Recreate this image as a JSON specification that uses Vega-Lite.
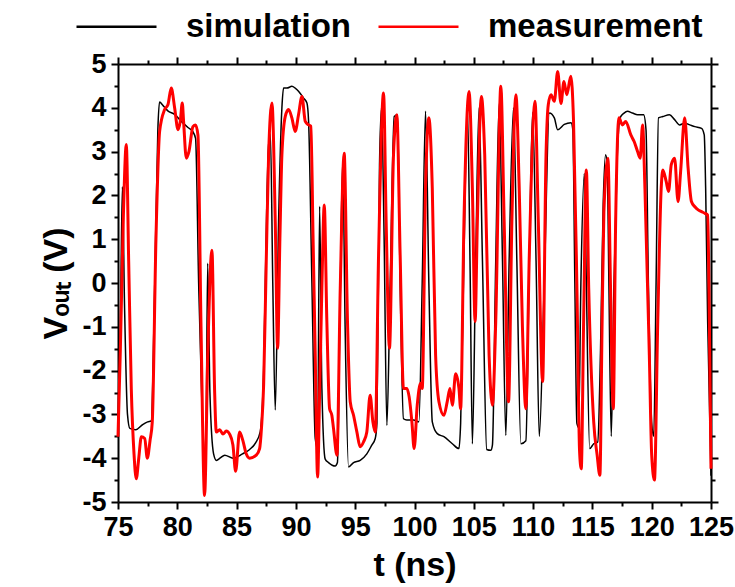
{
  "$schema": "https://vega.github.io/schema/vega-lite/v6.json",
  "width": 593,
  "height": 438,
  "autosize": "none",
  "padding": {"left": 118, "top": 64, "right": 24, "bottom": 85},
  "background": "white",
  "config": {
    "view": {"stroke": null},
    "font": "Liberation Sans",
    "axis": {
      "domainColor": "black", "domainWidth": 2, "tickColor": "black", "tickWidth": 2,
      "labelFont": "Liberation Sans", "labelFontWeight": "bold", "labelFontSize": 27, "labelColor": "black",
      "titleFont": "Liberation Sans", "titleFontWeight": "bold", "titleFontSize": 34, "titleColor": "black",
      "grid": false, "labelOverlap": false, "labelFlush": false
    }
  },
  "datasets": {
    "sim": [
      {"s":"simulation","t":75.0,"v":-3.2},{"s":"simulation","t":75.2,"v":-1.0},{"s":"simulation","t":75.37,"v":2.2},{"s":"simulation","t":75.55,"v":-0.5},{"s":"simulation","t":75.8,"v":-3.0},{"s":"simulation","t":76.0,"v":-3.32},{"s":"simulation","t":76.5,"v":-3.35},{"s":"simulation","t":77.0,"v":-3.25},{"s":"simulation","t":77.5,"v":-3.17},{"s":"simulation","t":77.8,"v":-3.15},{"s":"simulation","t":78.1,"v":0.0},{"s":"simulation","t":78.36,"v":3.5},{"s":"simulation","t":78.5,"v":4.13},{"s":"simulation","t":78.8,"v":4.05},{"s":"simulation","t":79.2,"v":3.93},{"s":"simulation","t":79.77,"v":3.85},{"s":"simulation","t":80.34,"v":3.69},{"s":"simulation","t":80.9,"v":3.55},{"s":"simulation","t":81.3,"v":3.46},{"s":"simulation","t":81.54,"v":3.3},{"s":"simulation","t":81.8,"v":0.0},{"s":"simulation","t":82.1,"v":-3.0},{"s":"simulation","t":82.4,"v":-4.1},{"s":"simulation","t":82.56,"v":0.45},{"s":"simulation","t":82.75,"v":-2.5},{"s":"simulation","t":83.06,"v":-3.9},{"s":"simulation","t":83.3,"v":-4.05},{"s":"simulation","t":83.6,"v":-4.0},{"s":"simulation","t":84.0,"v":-3.93},{"s":"simulation","t":84.7,"v":-4.0},{"s":"simulation","t":85.5,"v":-3.9},{"s":"simulation","t":86.1,"v":-3.8},{"s":"simulation","t":86.6,"v":-3.65},{"s":"simulation","t":86.99,"v":-3.4},{"s":"simulation","t":87.28,"v":-2.0},{"s":"simulation","t":87.56,"v":2.0},{"s":"simulation","t":87.7,"v":3.16},{"s":"simulation","t":87.85,"v":3.4},{"s":"simulation","t":88.05,"v":0.0},{"s":"simulation","t":88.26,"v":-2.9},{"s":"simulation","t":88.54,"v":1.4},{"s":"simulation","t":88.82,"v":4.0},{"s":"simulation","t":88.96,"v":4.45},{"s":"simulation","t":89.24,"v":4.45},{"s":"simulation","t":89.66,"v":4.49},{"s":"simulation","t":89.94,"v":4.45},{"s":"simulation","t":90.22,"v":4.38},{"s":"simulation","t":90.65,"v":4.22},{"s":"simulation","t":90.93,"v":4.11},{"s":"simulation","t":91.07,"v":3.69},{"s":"simulation","t":91.35,"v":0.0},{"s":"simulation","t":91.63,"v":-3.55},{"s":"simulation","t":91.83,"v":-3.78},{"s":"simulation","t":92.0,"v":1.75},{"s":"simulation","t":92.19,"v":-2.4},{"s":"simulation","t":92.47,"v":-4.02},{"s":"simulation","t":92.75,"v":-4.1},{"s":"simulation","t":93.31,"v":-4.18},{"s":"simulation","t":93.5,"v":-4.1},{"s":"simulation","t":93.7,"v":-1.0},{"s":"simulation","t":93.95,"v":2.8},{"s":"simulation","t":94.15,"v":-1.0},{"s":"simulation","t":94.44,"v":-4.2},{"s":"simulation","t":94.86,"v":-4.1},{"s":"simulation","t":95.42,"v":-4.05},{"s":"simulation","t":95.98,"v":-3.9},{"s":"simulation","t":96.4,"v":-3.7},{"s":"simulation","t":96.69,"v":-3.55},{"s":"simulation","t":96.83,"v":-3.2},{"s":"simulation","t":97.05,"v":2.7},{"s":"simulation","t":97.22,"v":4.0},{"s":"simulation","t":97.44,"v":1.0},{"s":"simulation","t":97.67,"v":-3.25},{"s":"simulation","t":97.95,"v":0.0},{"s":"simulation","t":98.29,"v":3.8},{"s":"simulation","t":98.57,"v":3.84},{"s":"simulation","t":98.79,"v":0.0},{"s":"simulation","t":99.07,"v":-3.1},{"s":"simulation","t":99.35,"v":-3.13},{"s":"simulation","t":99.92,"v":-3.13},{"s":"simulation","t":100.37,"v":-3.17},{"s":"simulation","t":100.65,"v":0.0},{"s":"simulation","t":100.93,"v":3.92},{"s":"simulation","t":101.21,"v":0.0},{"s":"simulation","t":101.5,"v":-3.17},{"s":"simulation","t":101.92,"v":-3.44},{"s":"simulation","t":102.48,"v":-3.51},{"s":"simulation","t":103.19,"v":-3.67},{"s":"simulation","t":103.75,"v":-3.78},{"s":"simulation","t":103.89,"v":-3.2},{"s":"simulation","t":104.17,"v":0.6},{"s":"simulation","t":104.46,"v":4.0},{"s":"simulation","t":104.68,"v":0.5},{"s":"simulation","t":104.88,"v":-3.67},{"s":"simulation","t":105.16,"v":0.5},{"s":"simulation","t":105.44,"v":4.0},{"s":"simulation","t":105.73,"v":0.5},{"s":"simulation","t":106.09,"v":-3.8},{"s":"simulation","t":106.43,"v":-3.82},{"s":"simulation","t":106.57,"v":-3.7},{"s":"simulation","t":106.85,"v":0.5},{"s":"simulation","t":107.14,"v":4.1},{"s":"simulation","t":107.42,"v":0.5},{"s":"simulation","t":107.7,"v":-3.48},{"s":"simulation","t":107.98,"v":0.5},{"s":"simulation","t":108.35,"v":4.0},{"s":"simulation","t":108.63,"v":0.5},{"s":"simulation","t":108.97,"v":-3.67},{"s":"simulation","t":109.39,"v":-3.6},{"s":"simulation","t":109.68,"v":0.5},{"s":"simulation","t":109.96,"v":3.9},{"s":"simulation","t":110.25,"v":0.5},{"s":"simulation","t":110.52,"v":-3.5},{"s":"simulation","t":110.94,"v":0.0},{"s":"simulation","t":111.37,"v":3.88},{"s":"simulation","t":111.79,"v":3.77},{"s":"simulation","t":112.07,"v":3.5},{"s":"simulation","t":112.63,"v":3.62},{"s":"simulation","t":113.2,"v":3.66},{"s":"simulation","t":113.35,"v":3.5},{"s":"simulation","t":113.52,"v":0.0},{"s":"simulation","t":113.69,"v":-3.2},{"s":"simulation","t":113.84,"v":-3.3},{"s":"simulation","t":114.03,"v":0.0},{"s":"simulation","t":114.32,"v":2.5},{"s":"simulation","t":114.49,"v":0.0},{"s":"simulation","t":114.77,"v":-3.78},{"s":"simulation","t":115.11,"v":-3.67},{"s":"simulation","t":115.45,"v":-3.63},{"s":"simulation","t":115.68,"v":-1.6},{"s":"simulation","t":115.91,"v":1.8},{"s":"simulation","t":116.11,"v":2.93},{"s":"simulation","t":116.25,"v":2.7},{"s":"simulation","t":116.39,"v":0.0},{"s":"simulation","t":116.59,"v":-3.5},{"s":"simulation","t":116.82,"v":0.0},{"s":"simulation","t":117.1,"v":2.93},{"s":"simulation","t":117.33,"v":3.77},{"s":"simulation","t":117.67,"v":3.88},{"s":"simulation","t":117.95,"v":3.92},{"s":"simulation","t":118.38,"v":3.88},{"s":"simulation","t":118.81,"v":3.84},{"s":"simulation","t":119.32,"v":3.84},{"s":"simulation","t":119.52,"v":3.5},{"s":"simulation","t":119.72,"v":0.0},{"s":"simulation","t":120.0,"v":-3.2},{"s":"simulation","t":120.17,"v":-3.5},{"s":"simulation","t":120.37,"v":0.0},{"s":"simulation","t":120.57,"v":3.77},{"s":"simulation","t":120.94,"v":3.8},{"s":"simulation","t":121.5,"v":3.84},{"s":"simulation","t":121.93,"v":3.73},{"s":"simulation","t":122.36,"v":3.61},{"s":"simulation","t":122.78,"v":3.65},{"s":"simulation","t":123.21,"v":3.61},{"s":"simulation","t":123.64,"v":3.57},{"s":"simulation","t":124.2,"v":3.53},{"s":"simulation","t":124.43,"v":3.38},{"s":"simulation","t":124.55,"v":2.15},{"s":"simulation","t":124.72,"v":-0.9},{"s":"simulation","t":125.0,"v":-4.4}
    ],
    "meas": [
      {"s":"measurement","t":75.0,"v":-3.51},{"s":"measurement","t":75.2,"v":-1.5},{"s":"measurement","t":75.45,"v":1.5},{"s":"measurement","t":75.7,"v":3.16},{"s":"measurement","t":75.9,"v":0.5},{"s":"measurement","t":76.12,"v":-2.41},{"s":"measurement","t":76.35,"v":-3.9},{"s":"measurement","t":76.54,"v":-4.47},{"s":"measurement","t":76.75,"v":-4.0},{"s":"measurement","t":76.97,"v":-3.51},{"s":"measurement","t":77.25,"v":-3.55},{"s":"measurement","t":77.47,"v":-4.0},{"s":"measurement","t":77.7,"v":-3.6},{"s":"measurement","t":77.89,"v":-3.17},{"s":"measurement","t":78.2,"v":1.0},{"s":"measurement","t":78.51,"v":3.46},{"s":"measurement","t":78.93,"v":3.96},{"s":"measurement","t":79.21,"v":4.07},{"s":"measurement","t":79.49,"v":4.45},{"s":"measurement","t":79.78,"v":3.99},{"s":"measurement","t":80.06,"v":3.5},{"s":"measurement","t":80.25,"v":3.69},{"s":"measurement","t":80.42,"v":4.11},{"s":"measurement","t":80.53,"v":3.69},{"s":"measurement","t":80.76,"v":2.85},{"s":"measurement","t":80.98,"v":3.0},{"s":"measurement","t":81.32,"v":3.57},{"s":"measurement","t":81.54,"v":3.61},{"s":"measurement","t":81.74,"v":3.38},{"s":"measurement","t":82.0,"v":-1.0},{"s":"measurement","t":82.3,"v":-4.85},{"s":"measurement","t":82.58,"v":-1.5},{"s":"measurement","t":82.92,"v":0.75},{"s":"measurement","t":83.15,"v":-2.5},{"s":"measurement","t":83.29,"v":-3.4},{"s":"measurement","t":83.57,"v":-3.35},{"s":"measurement","t":83.85,"v":-3.45},{"s":"measurement","t":84.13,"v":-3.38},{"s":"measurement","t":84.41,"v":-3.45},{"s":"measurement","t":84.69,"v":-3.7},{"s":"measurement","t":84.92,"v":-4.3},{"s":"measurement","t":85.25,"v":-3.4},{"s":"measurement","t":85.53,"v":-3.6},{"s":"measurement","t":85.81,"v":-3.9},{"s":"measurement","t":86.1,"v":-4.0},{"s":"measurement","t":86.66,"v":-3.93},{"s":"measurement","t":86.94,"v":-3.78},{"s":"measurement","t":87.1,"v":-3.3},{"s":"measurement","t":87.28,"v":-2.33},{"s":"measurement","t":87.5,"v":0.5},{"s":"measurement","t":87.7,"v":2.93},{"s":"measurement","t":87.98,"v":4.11},{"s":"measurement","t":88.26,"v":1.4},{"s":"measurement","t":88.46,"v":-1.49},{"s":"measurement","t":88.65,"v":1.0},{"s":"measurement","t":88.82,"v":2.93},{"s":"measurement","t":89.1,"v":3.8},{"s":"measurement","t":89.38,"v":3.96},{"s":"measurement","t":89.66,"v":3.77},{"s":"measurement","t":89.94,"v":3.46},{"s":"measurement","t":90.22,"v":3.84},{"s":"measurement","t":90.51,"v":4.26},{"s":"measurement","t":90.79,"v":3.69},{"s":"measurement","t":91.07,"v":3.61},{"s":"measurement","t":91.26,"v":3.58},{"s":"measurement","t":91.45,"v":1.0},{"s":"measurement","t":91.63,"v":-1.65},{"s":"measurement","t":91.83,"v":-4.43},{"s":"measurement","t":92.0,"v":-2.5},{"s":"measurement","t":92.19,"v":-0.12},{"s":"measurement","t":92.39,"v":1.78},{"s":"measurement","t":92.61,"v":-0.88},{"s":"measurement","t":92.84,"v":-2.87},{"s":"measurement","t":93.03,"v":-3.02},{"s":"measurement","t":93.17,"v":-3.32},{"s":"measurement","t":93.46,"v":-3.93},{"s":"measurement","t":93.74,"v":-0.12},{"s":"measurement","t":94.07,"v":2.96},{"s":"measurement","t":94.35,"v":-0.88},{"s":"measurement","t":94.58,"v":-2.71},{"s":"measurement","t":94.86,"v":-3.02},{"s":"measurement","t":95.14,"v":-3.4},{"s":"measurement","t":95.42,"v":-3.74},{"s":"measurement","t":95.7,"v":-3.63},{"s":"measurement","t":95.98,"v":-3.4},{"s":"measurement","t":96.26,"v":-2.56},{"s":"measurement","t":96.49,"v":-3.17},{"s":"measurement","t":96.69,"v":-3.4},{"s":"measurement","t":96.97,"v":0.64},{"s":"measurement","t":97.39,"v":4.34},{"s":"measurement","t":97.61,"v":1.4},{"s":"measurement","t":97.89,"v":-1.49},{"s":"measurement","t":98.23,"v":2.93},{"s":"measurement","t":98.51,"v":3.84},{"s":"measurement","t":98.79,"v":0.64},{"s":"measurement","t":99.07,"v":-2.41},{"s":"measurement","t":99.35,"v":-2.41},{"s":"measurement","t":99.55,"v":-2.6},{"s":"measurement","t":99.78,"v":-3.17},{"s":"measurement","t":99.97,"v":-3.78},{"s":"measurement","t":100.23,"v":-2.79},{"s":"measurement","t":100.51,"v":-2.29},{"s":"measurement","t":100.65,"v":-2.41},{"s":"measurement","t":100.93,"v":2.16},{"s":"measurement","t":101.21,"v":3.77},{"s":"measurement","t":101.5,"v":2.16},{"s":"measurement","t":101.78,"v":-1.65},{"s":"measurement","t":102.06,"v":-2.71},{"s":"measurement","t":102.48,"v":-3.02},{"s":"measurement","t":102.76,"v":-2.71},{"s":"measurement","t":102.99,"v":-2.41},{"s":"measurement","t":103.19,"v":-2.79},{"s":"measurement","t":103.47,"v":-2.07},{"s":"measurement","t":103.75,"v":-2.41},{"s":"measurement","t":103.89,"v":-2.87},{"s":"measurement","t":104.17,"v":1.4},{"s":"measurement","t":104.6,"v":4.37},{"s":"measurement","t":104.88,"v":2.16},{"s":"measurement","t":105.11,"v":-0.88},{"s":"measurement","t":105.3,"v":1.4},{"s":"measurement","t":105.64,"v":4.26},{"s":"measurement","t":105.92,"v":2.93},{"s":"measurement","t":106.29,"v":-1.65},{"s":"measurement","t":106.57,"v":-2.79},{"s":"measurement","t":106.85,"v":-0.88},{"s":"measurement","t":107.28,"v":4.49},{"s":"measurement","t":107.56,"v":1.4},{"s":"measurement","t":107.93,"v":-2.71},{"s":"measurement","t":108.21,"v":1.4},{"s":"measurement","t":108.55,"v":4.3},{"s":"measurement","t":108.83,"v":2.16},{"s":"measurement","t":109.1,"v":-1.0},{"s":"measurement","t":109.39,"v":-2.87},{"s":"measurement","t":109.68,"v":0.64},{"s":"measurement","t":110.16,"v":4.15},{"s":"measurement","t":110.44,"v":1.4},{"s":"measurement","t":110.8,"v":-2.25},{"s":"measurement","t":111.09,"v":2.93},{"s":"measurement","t":111.28,"v":4.07},{"s":"measurement","t":111.51,"v":4.3},{"s":"measurement","t":111.79,"v":4.15},{"s":"measurement","t":112.07,"v":4.83},{"s":"measurement","t":112.35,"v":4.1},{"s":"measurement","t":112.6,"v":4.6},{"s":"measurement","t":112.84,"v":4.3},{"s":"measurement","t":113.18,"v":4.72},{"s":"measurement","t":113.41,"v":3.69},{"s":"measurement","t":113.69,"v":-0.03},{"s":"measurement","t":113.92,"v":-3.85},{"s":"measurement","t":114.06,"v":-4.24},{"s":"measurement","t":114.26,"v":-0.88},{"s":"measurement","t":114.49,"v":2.58},{"s":"measurement","t":114.69,"v":-0.12},{"s":"measurement","t":115.11,"v":-3.17},{"s":"measurement","t":115.4,"v":-3.93},{"s":"measurement","t":115.63,"v":-4.39},{"s":"measurement","t":115.82,"v":-0.88},{"s":"measurement","t":115.97,"v":1.63},{"s":"measurement","t":116.31,"v":2.85},{"s":"measurement","t":116.53,"v":-0.12},{"s":"measurement","t":116.76,"v":-2.87},{"s":"measurement","t":116.96,"v":1.4},{"s":"measurement","t":117.24,"v":3.77},{"s":"measurement","t":117.53,"v":3.61},{"s":"measurement","t":117.81,"v":3.69},{"s":"measurement","t":118.24,"v":3.38},{"s":"measurement","t":118.52,"v":3.23},{"s":"measurement","t":118.81,"v":3.0},{"s":"measurement","t":119.03,"v":2.85},{"s":"measurement","t":119.23,"v":3.61},{"s":"measurement","t":119.43,"v":2.16},{"s":"measurement","t":119.8,"v":-1.65},{"s":"measurement","t":120.0,"v":-3.93},{"s":"measurement","t":120.23,"v":-4.5},{"s":"measurement","t":120.51,"v":-0.88},{"s":"measurement","t":120.8,"v":2.16},{"s":"measurement","t":120.94,"v":2.58},{"s":"measurement","t":121.22,"v":2.32},{"s":"measurement","t":121.42,"v":2.09},{"s":"measurement","t":121.65,"v":2.7},{"s":"measurement","t":121.93,"v":2.85},{"s":"measurement","t":122.22,"v":1.86},{"s":"measurement","t":122.44,"v":2.55},{"s":"measurement","t":122.78,"v":3.77},{"s":"measurement","t":123.07,"v":2.62},{"s":"measurement","t":123.35,"v":1.86},{"s":"measurement","t":123.64,"v":1.74},{"s":"measurement","t":123.92,"v":1.67},{"s":"measurement","t":124.2,"v":1.63},{"s":"measurement","t":124.49,"v":1.59},{"s":"measurement","t":124.72,"v":1.55},{"s":"measurement","t":124.83,"v":-0.12},{"s":"measurement","t":125.0,"v":-4.24}
    ]
  },
  "layer": [
    {
      "data": {"name": "sim"},
      "mark": {"type": "line", "strokeWidth": 1.5, "interpolate": "monotone"},
      "encoding": {
        "x": {"field": "t", "type": "quantitative", "scale": {"domain": [75, 125], "nice": false, "zero": false},
          "axis": {"orient": "bottom", "title": "t (ns)", "values": [75,77.5,80,82.5,85,87.5,90,92.5,95,97.5,100,102.5,105,107.5,110,112.5,115,117.5,120,122.5,125],
            "labelExpr": "datum.value % 5 === 0 ? '' + datum.value : ''",
            "tickSize": {"condition": {"test": "datum.value % 5 === 0", "value": 7}, "value": 4},
            "labelPadding": 5, "titlePadding": 8}},
        "y": {"field": "v", "type": "quantitative", "scale": {"domain": [-5, 5], "nice": false, "zero": false},
          "axis": {"orient": "left", "title": "Vₒᵤₜ (V)", "values": [-5,-4.5,-4,-3.5,-3,-2.5,-2,-1.5,-1,-0.5,0,0.5,1,1.5,2,2.5,3,3.5,4,4.5,5],
            "labelExpr": "datum.value % 1 === 0 ? '' + datum.value : ''",
            "tickSize": {"condition": {"test": "datum.value % 1 === 0", "value": 7}, "value": 4},
            "labelPadding": 5, "titlePadding": 8}},
        "color": {"field": "s", "type": "nominal",
          "scale": {"domain": ["simulation", "measurement"], "range": ["#000000", "#ff0000"]},
          "legend": {"orient": "none", "legendX": -43, "legendY": -79, "direction": "horizontal", "title": null,
            "symbolType": "stroke", "symbolSize": 6400, "symbolStrokeWidth": 2.5,
            "labelFont": "Liberation Sans", "labelFontSize": 33, "labelFontWeight": "bold", "labelColor": "black",
            "labelOffset": 28, "columnPadding": 21, "labelLimit": 400, "padding": 0}}
      }
    },
    {
      "data": {"name": "meas"},
      "mark": {"type": "line", "strokeWidth": 3, "interpolate": "monotone"},
      "encoding": {
        "x": {"field": "t", "type": "quantitative",
          "axis": {"orient": "top", "title": null, "labels": false, "values": [75,77.5,80,82.5,85,87.5,90,92.5,95,97.5,100,102.5,105,107.5,110,112.5,115,117.5,120,122.5,125],
            "tickSize": {"condition": {"test": "datum.value % 5 === 0", "value": 7}, "value": 4}}},
        "y": {"field": "v", "type": "quantitative",
          "axis": {"orient": "right", "title": null, "labels": false, "values": [-5,-4.5,-4,-3.5,-3,-2.5,-2,-1.5,-1,-0.5,0,0.5,1,1.5,2,2.5,3,3.5,4,4.5,5],
            "tickSize": {"condition": {"test": "datum.value % 1 === 0", "value": 7}, "value": 4}}},
        "color": {"field": "s", "type": "nominal"}
      }
    }
  ],
  "resolve": {"axis": {"x": "independent", "y": "independent"}}
}
